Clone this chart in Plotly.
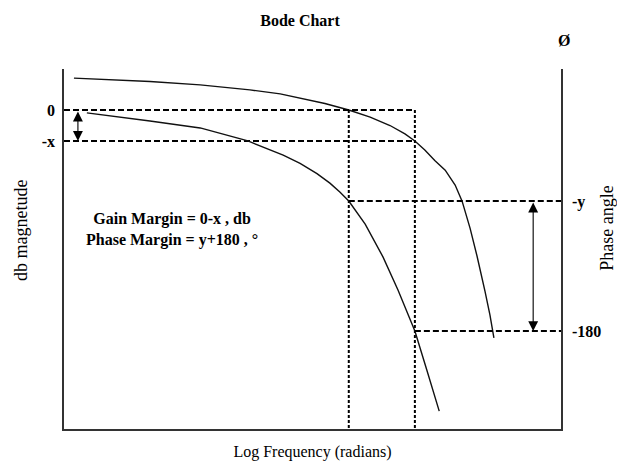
import plotly.graph_objects as go

# Frequency axis: log10(w) in arbitrary units, 0..10 across the plot
freq_range = [0, 10]

# Magnitude curve (dB, left axis)
mag_freq = [0.20, 0.72, 1.73, 2.74, 3.74, 4.35, 4.75, 5.25, 5.73, 6.16, 6.56, 6.86, 7.06, 7.26,
            7.46, 7.67, 7.87, 8.01, 8.17, 8.31, 8.47, 8.57, 8.65]
mag_db = [10.3, 9.9, 9.2, 8.1, 6.5, 5.2, 3.9, 2.1, 0.0, -2.3, -5.0, -7.7, -10.0, -12.9,
          -16.3, -19.4, -24.2, -29.4, -38.1, -47.1, -58.4, -66.1, -73.5]

# Phase curve (degrees, right axis)
phase_freq = [0.46, 1.13, 1.73, 2.74, 3.70, 4.41, 4.75, 5.09, 5.35, 5.55, 5.73, 6.06, 6.42,
              6.72, 7.06, 7.30, 7.55]
phase_deg = [-104.5, -105.9, -107.3, -109.7, -114.2, -119.1, -122.0, -125.5, -128.8, -131.9,
             -135.0, -143.0, -154.4, -165.8, -180.0, -193.5, -207.7]

# Crossover frequencies and the marked levels
w_gain_cross = 5.73
w_phase_cross = 7.06
mag_levels = [0, -10]          # 0 and -x
mag_labels = ["0", "-x"]
phase_levels = [-135, -180]    # -y and -180
phase_labels = ["-y", "-180"]

mag_range = [-102.9, 13.23]
phase_range = [-213.9, -89.3]

serif = "Liberation Serif, Times New Roman, serif"
ink = "#111111"
axis_col = "#333333"

fig = go.Figure()

# Curves
curve = dict(color=ink, width=1.4)
fig.add_trace(go.Scatter(x=mag_freq, y=mag_db, mode="lines", line=curve,
                         yaxis="y", showlegend=False, hoverinfo="skip"))
fig.add_trace(go.Scatter(x=phase_freq, y=phase_deg, mode="lines", line=curve,
                         yaxis="y2", showlegend=False, hoverinfo="skip"))

dash_h = dict(color="black", width=2, dash="6px,3px")
dash_v = dict(color="black", width=2, dash="3px,2px")

# Horizontal dashed guides for 0 and -x (left axis)
for lvl in mag_levels:
    fig.add_trace(go.Scatter(x=[freq_range[0], w_phase_cross], y=[lvl, lvl], mode="lines", line=dash_h,
                             yaxis="y", showlegend=False, hoverinfo="skip"))

# Vertical dotted guides at the two crossover frequencies
for w in [w_gain_cross, w_phase_cross]:
    fig.add_trace(go.Scatter(x=[w, w], y=[mag_levels[0], mag_range[0]], mode="lines", line=dash_v,
                             yaxis="y", showlegend=False, hoverinfo="skip"))

# Horizontal dashed guides for -y and -180 (right axis)
for w, lvl in zip([w_gain_cross, w_phase_cross], phase_levels):
    fig.add_trace(go.Scatter(x=[w, freq_range[1]], y=[lvl, lvl], mode="lines", line=dash_h,
                             yaxis="y2", showlegend=False, hoverinfo="skip"))

# Double-headed arrows showing the margins
arrow = dict(showarrow=True, arrowhead=2, arrowside="end+start", arrowsize=1.8, arrowwidth=1.1,
             arrowcolor="black", text="", standoff=0, startstandoff=0)
fig.add_annotation(x=0.28, y=mag_levels[1], ax=0.28, ay=mag_levels[0], xref="x", yref="y",
                   axref="x", ayref="y", **arrow)
fig.add_annotation(x=9.44, y=phase_levels[1], ax=9.44, ay=phase_levels[0], xref="x", yref="y2",
                   axref="x", ayref="y2", **arrow)

# Margin definitions
fig.add_annotation(x=2.17, y=-38.4, xref="x", yref="y", showarrow=False,
                   text="<b>Gain Margin = 0-x , db<br>Phase Margin = y+180 , °</b>",
                   font=dict(family=serif, size=16, color="black"), align="center")

# Phase symbol above the right axis
fig.add_annotation(x=1.006, y=1.078, xref="paper", yref="paper", xanchor="center", yanchor="middle",
                   showarrow=False, text="<b>Ø</b>", font=dict(family=serif, size=16, color="black"))

# Axis titles
fig.add_annotation(x=-0.0865, y=0.55, xref="paper", yref="paper", xanchor="center", yanchor="middle",
                   showarrow=False, text="db magnetude", textangle=-90,
                   font=dict(family=serif, size=18, color="black"))
fig.add_annotation(x=1.092, y=0.558, xref="paper", yref="paper", xanchor="center", yanchor="middle",
                   showarrow=False, text="Phase angle", textangle=-90,
                   font=dict(family=serif, size=18, color="black"))

fig.update_layout(
    width=617, height=461,
    margin=dict(l=64, r=56, t=69, b=32, autoexpand=False),
    paper_bgcolor="white", plot_bgcolor="white",
    title=dict(text="<b>Bode Chart</b>", x=300 / 617, xanchor="center", y=1 - 20 / 461, yanchor="middle",
               font=dict(family=serif, size=16, color="black")),
    xaxis=dict(range=freq_range, showgrid=False, zeroline=False, showticklabels=False, ticks="",
               showline=True, linecolor=axis_col, linewidth=1.5, automargin=False,
               title=dict(text="Log Frequency (radians)", standoff=19,
                          font=dict(family=serif, size=16, color="black"))),
    yaxis=dict(range=mag_range, showgrid=False, zeroline=False, ticks="", tickvals=mag_levels, ticktext=mag_labels,
               tickfont=dict(family=serif, size=16, color="black", weight="bold"), ticklabelstandoff=4,
               showline=True, linecolor=axis_col, linewidth=1.5, automargin=False),
    yaxis2=dict(range=phase_range, overlaying="y", side="right", showgrid=False, zeroline=False, ticks="",
                tickvals=phase_levels, ticktext=phase_labels,
                tickfont=dict(family=serif, size=16, color="black", weight="bold"), ticklabelstandoff=6,
                showline=True, linecolor=axis_col, linewidth=1.5, automargin=False),
)

fig.write_html("out.html")
